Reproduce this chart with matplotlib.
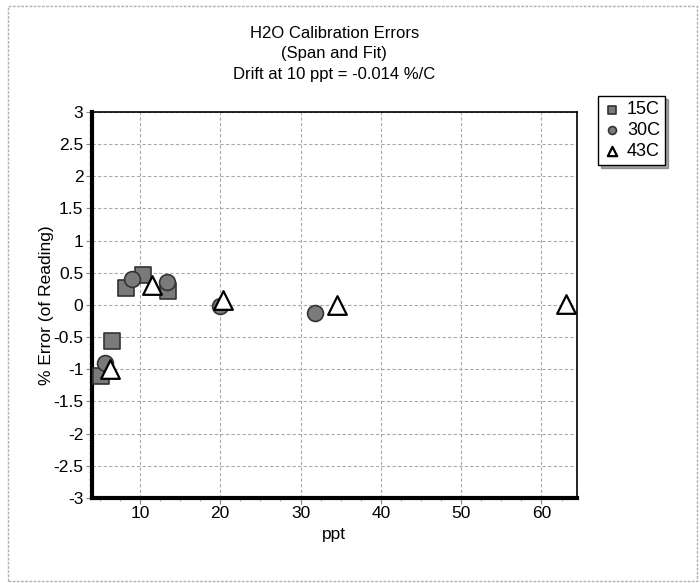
import matplotlib.pyplot as plt
from matplotlib.ticker import MultipleLocator
from matplotlib.patches import Rectangle

# calibration error readings per temperature
ppt_15c = [5.1, 6.5, 8.3, 10.4, 13.5]
err_15c = [-1.10, -0.56, 0.26, 0.47, 0.21]

ppt_30c = [5.6, 9.0, 13.4, 20.0, 31.8]
err_30c = [-0.91, 0.40, 0.35, -0.02, -0.12]

ppt_43c = [6.3, 11.5, 20.3, 34.5, 63.1]
err_43c = [-1.00, 0.31, 0.08, 0.00, 0.02]

plt.rcParams['font.family'] = ['Liberation Sans', 'DejaVu Sans']

fig = plt.figure(figsize=(7, 5.83), dpi=100)
ax = fig.add_axes([0.131, 0.146, 0.693, 0.662])

# light outer frame around the whole chart
fig.patches.append(Rectangle((0.012, 0.004), 0.984, 0.986, transform=fig.transFigure,
                             fill=False, edgecolor='#b0b0b0', linewidth=1.0, linestyle=(0, (2, 1))))

ax.scatter(ppt_15c, err_15c, marker='s', s=140, facecolor='#7a7a7a', edgecolor='#333333',
           linewidth=1.2, label='15C', zorder=3)
ax.scatter(ppt_30c, err_30c, marker='o', s=130, facecolor='#7a7a7a', edgecolor='#333333',
           linewidth=1.2, label='30C', zorder=3)
ax.scatter(ppt_43c, err_43c, marker='^', s=180, facecolor='white', edgecolor='black',
           linewidth=1.6, label='43C', zorder=4, clip_on=False)

ax.set_xlim(4, 64.4)
ax.set_ylim(-3, 3)
ax.xaxis.set_major_locator(MultipleLocator(10))
ax.xaxis.set_minor_locator(MultipleLocator(2.5))
ax.yaxis.set_major_locator(MultipleLocator(0.5))
ax.yaxis.set_minor_locator(MultipleLocator(0.1))
ax.set_yticklabels([f'{v:g}' for v in ax.get_yticks()])

ax.grid(True, which='major', color='#aaaaaa', linestyle=(0, (3, 2)), linewidth=0.8)
ax.set_axisbelow(True)
for sp in ax.spines.values():
    sp.set_linewidth(1.2)
ax.spines['left'].set_linewidth(3)
ax.spines['bottom'].set_linewidth(3)

ax.tick_params(which='major', length=4, width=0.8, color='#888888', labelsize=12.5, pad=2)
ax.tick_params(which='minor', length=2, width=0.6, color='#999999')

ax.set_xlabel('ppt', fontsize=12.5, labelpad=4)
ax.set_ylabel('% Error (of Reading)', fontsize=12.5)
ax.yaxis.set_label_coords(-0.078, 0.5)

ax.set_title('H2O Calibration Errors\n(Span and Fit)\nDrift at 10 ppt = -0.014 %/C',
             fontsize=12, linespacing=1.45, pad=24)

leg = ax.legend(loc='upper left', bbox_to_anchor=(1.025, 1.065), fontsize=13, markerscale=0.5,
                handletextpad=0.3, borderpad=0.3, labelspacing=0.2, handlelength=1.0,
                fancybox=False, shadow=True, framealpha=1)
leg.get_frame().set_edgecolor('black')
leg.get_frame().set_linewidth(1.0)

fig.savefig('out.png', dpi=100)
